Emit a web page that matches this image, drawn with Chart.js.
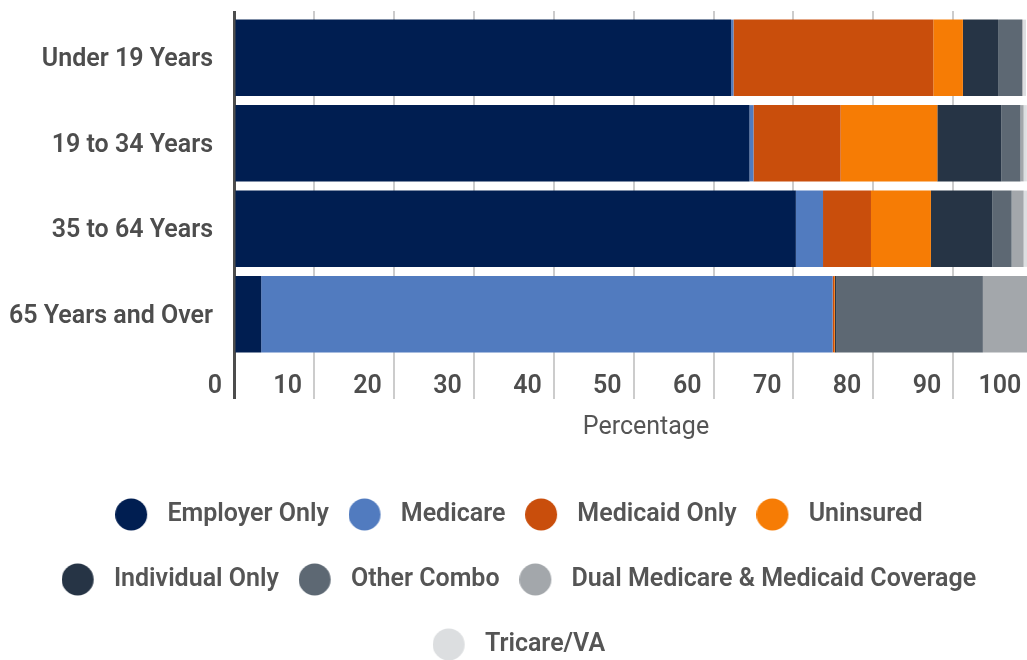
<!DOCTYPE html>
<html>
<head>
<meta charset="utf-8">
<script src="https://cdn.jsdelivr.net/npm/chart.js@4"></script>
<style>
  html, body { margin: 0; padding: 0; background: #ffffff; overflow: hidden; width: 1027px; height: 660px; }
  #wrap { position: absolute; left: 0; top: 0; width: 1058px; height: 660px; }
</style>
</head>
<body>
<div id="wrap"><canvas id="c" width="1058" height="660"></canvas></div>
<script>
const categories = ['Under 19 Years', '19 to 34 Years', '35 to 64 Years', '65 Years and Over'];
const seriesNames = ['Employer Only', 'Medicare', 'Medicaid Only', 'Uninsured', 'Individual Only', 'Other Combo', 'Dual Medicare & Medicaid Coverage', 'Tricare/VA'];
const employerOnly = [62.2, 64.5, 70.3, 3.4];
const medicare = [0.3, 0.5, 3.4, 71.5];
const medicaidOnly = [25.0, 10.9, 6.0, 0.2];
const uninsured = [3.7, 12.1, 7.5, 0.1];
const individualOnly = [4.4, 8.0, 7.7, 0.2];
const otherCombo = [3.0, 2.4, 2.4, 18.3];
const dualCoverage = [0.1, 0.4, 1.5, 6.2];
const tricareVA = [0.4, 0.4, 0.5, 0.1];
const xTickValues = [0, 10, 20, 30, 40, 50, 60, 70, 80, 90, 100];
const axisTitle = 'Percentage';

const colors = ['#001e51', '#517bbf', '#c94e0c', '#f67c05', '#263445', '#5d6873', '#a3a7ab', '#dcdee0'];
const seriesValues = [employerOnly, medicare, medicaidOnly, uninsured, individualOnly, otherCombo, dualCoverage, tricareVA];

Chart.defaults.font.family = 'Roboto';
Chart.defaults.color = '#4d4d4d';
const labelWeight = '600';
const X_MAX = 103.1;

function circleImg(color) {
  const c = document.createElement('canvas');
  c.width = 60; c.height = 33;
  const g = c.getContext('2d');
  g.fillStyle = color;
  g.beginPath();
  g.arc(16, 16.5, 16, 0, Math.PI * 2);
  g.fill();
  return c;
}

const gridColor = (ctx) => (ctx.tick && ctx.tick.value === 0) ? '#4d4d4d' : '#cccccc';
const gridWidth = (ctx) => (ctx.tick && ctx.tick.value === 0) ? 3 : 2;

const datasets = seriesNames.map((name, i) => ({
  label: name,
  data: seriesValues[i],
  backgroundColor: colors[i],
  borderWidth: 0,
  barPercentage: 1,
  categoryPercentage: 0.892
}));

new Chart(document.getElementById('c'), {
  type: 'bar',
  data: { labels: categories, datasets: datasets },
  options: {
    indexAxis: 'y',
    responsive: false,
    maintainAspectRatio: false,
    animation: false,
    layout: { padding: { top: 10, left: 0, right: 0, bottom: -7 } },
    scales: {
      x: {
        stacked: true,
        min: 0,
        max: X_MAX,
        afterFit: (s) => { s.height = 105; },
        afterBuildTicks: (s) => { s.ticks = xTickValues.map(v => ({ value: v })); },
        border: { display: false },
        grid: {
          display: true,
          drawOnChartArea: true,
          drawTicks: true,
          tickLength: 42,
          color: gridColor,
          lineWidth: gridWidth
        },
        ticks: {
          includeBounds: false,
          stepSize: 10,
          align: 'end',
          labelOffset: -12,
          padding: -27,
          color: '#4d4d4d',
          font: { size: 25, weight: labelWeight }
        },
        title: {
          display: true,
          text: axisTitle,
          color: '#555555',
          font: { size: 25, weight: '400' },
          padding: { top: 0, bottom: 19 }
        }
      },
      x2: {
        type: 'linear',
        position: 'top',
        min: 0,
        max: X_MAX,
        afterFit: (s) => { s.height = 4; },
        afterBuildTicks: (s) => { s.ticks = xTickValues.map(v => ({ value: v })); },
        border: { display: false },
        grid: {
          display: true,
          drawOnChartArea: false,
          drawTicks: true,
          tickLength: 4,
          color: gridColor,
          lineWidth: gridWidth
        },
        ticks: { display: false }
      },
      y: {
        stacked: true,
        afterFit: (s) => { s.width = 234; },
        border: { display: false },
        grid: {
          display: true,
          drawOnChartArea: false,
          drawTicks: true,
          tickLength: 21,
          tickColor: 'rgba(0,0,0,0)',
          color: 'rgba(0,0,0,0)'
        },
        ticks: {
          padding: 0,
          labelOffset: 2,
          color: '#4d4d4d',
          font: { size: 25, weight: labelWeight }
        }
      }
    },
    plugins: {
      tooltip: { enabled: false },
      legend: {
        display: true,
        position: 'bottom',
        align: 'center',
        labels: {
          usePointStyle: true,
          pointStyleWidth: 19.5,
          padding: 40,
          color: '#555555',
          font: { size: 25, weight: labelWeight },
          generateLabels: (chart) => {
            const items = Chart.defaults.plugins.legend.labels.generateLabels(chart);
            items.forEach((it, i) => { it.pointStyle = circleImg(colors[i]); it.lineWidth = 0; });
            return items;
          }
        }
      }
    }
  }
});
</script>
</body>
</html>
